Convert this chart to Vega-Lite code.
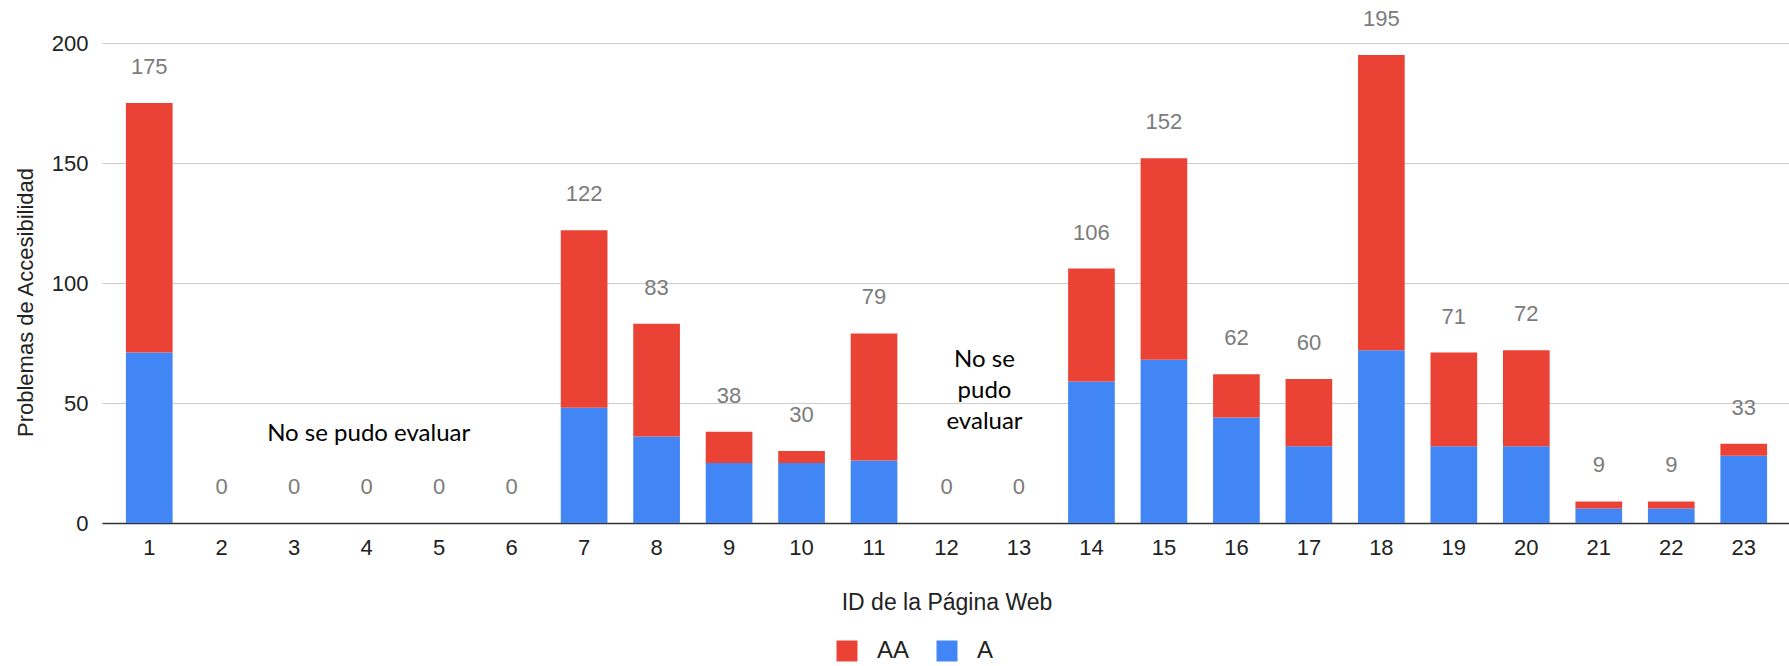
{
  "$schema": "https://vega.github.io/schema/vega-lite/v6.json",
  "autosize": {"type": "none"},
  "padding": {"left": 102, "top": 43, "right": 0, "bottom": 143},
  "width": 1689,
  "height": 480,
  "background": "white",
  "config": {
    "view": {"stroke": null},
    "font": "Liberation Sans"
  },
  "datasets": {
    "paginas": [
      {"id": "1", "nivel": "A", "valor": 71}, {"id": "1", "nivel": "AA", "valor": 104},
      {"id": "2", "nivel": "A", "valor": 0}, {"id": "2", "nivel": "AA", "valor": 0},
      {"id": "3", "nivel": "A", "valor": 0}, {"id": "3", "nivel": "AA", "valor": 0},
      {"id": "4", "nivel": "A", "valor": 0}, {"id": "4", "nivel": "AA", "valor": 0},
      {"id": "5", "nivel": "A", "valor": 0}, {"id": "5", "nivel": "AA", "valor": 0},
      {"id": "6", "nivel": "A", "valor": 0}, {"id": "6", "nivel": "AA", "valor": 0},
      {"id": "7", "nivel": "A", "valor": 48}, {"id": "7", "nivel": "AA", "valor": 74},
      {"id": "8", "nivel": "A", "valor": 36}, {"id": "8", "nivel": "AA", "valor": 47},
      {"id": "9", "nivel": "A", "valor": 25}, {"id": "9", "nivel": "AA", "valor": 13},
      {"id": "10", "nivel": "A", "valor": 25}, {"id": "10", "nivel": "AA", "valor": 5},
      {"id": "11", "nivel": "A", "valor": 26}, {"id": "11", "nivel": "AA", "valor": 53},
      {"id": "12", "nivel": "A", "valor": 0}, {"id": "12", "nivel": "AA", "valor": 0},
      {"id": "13", "nivel": "A", "valor": 0}, {"id": "13", "nivel": "AA", "valor": 0},
      {"id": "14", "nivel": "A", "valor": 59}, {"id": "14", "nivel": "AA", "valor": 47},
      {"id": "15", "nivel": "A", "valor": 68}, {"id": "15", "nivel": "AA", "valor": 84},
      {"id": "16", "nivel": "A", "valor": 44}, {"id": "16", "nivel": "AA", "valor": 18},
      {"id": "17", "nivel": "A", "valor": 32}, {"id": "17", "nivel": "AA", "valor": 28},
      {"id": "18", "nivel": "A", "valor": 72}, {"id": "18", "nivel": "AA", "valor": 123},
      {"id": "19", "nivel": "A", "valor": 32}, {"id": "19", "nivel": "AA", "valor": 39},
      {"id": "20", "nivel": "A", "valor": 32}, {"id": "20", "nivel": "AA", "valor": 40},
      {"id": "21", "nivel": "A", "valor": 6}, {"id": "21", "nivel": "AA", "valor": 3},
      {"id": "22", "nivel": "A", "valor": 6}, {"id": "22", "nivel": "AA", "valor": 3},
      {"id": "23", "nivel": "A", "valor": 28}, {"id": "23", "nivel": "AA", "valor": 5}
    ],
    "notas": [
      {"id": "4", "nota": "No se pudo evaluar"}
    ],
    "notas2": [
      {"id": "12", "nota": ["No se", "pudo", "evaluar"]}
    ]
  },
  "data": {"name": "paginas"},
  "encoding": {
    "x": {
      "field": "id",
      "type": "ordinal",
      "sort": null,
      "scale": {"paddingInner": 0.356, "paddingOuter": 0.33},
      "axis": {
        "title": "ID de la Página Web",
        "titleFont": "Liberation Sans",
        "titleFontSize": 23,
        "titleFontWeight": "normal",
        "titleColor": "#222222",
        "titlePadding": 33,
        "labelAngle": 0,
        "labelFontSize": 22,
        "labelColor": "#222222",
        "labelPadding": 14,
        "ticks": false,
        "domainColor": "#333333",
        "domainWidth": 1.5,
        "grid": false
      }
    }
  },
  "layer": [
    {
      "mark": {"type": "bar"},
      "encoding": {
        "y": {
          "field": "valor",
          "type": "quantitative",
          "aggregate": "sum",
          "stack": "zero",
          "scale": {"domain": [0, 200], "nice": false},
          "axis": {
            "title": "Problemas de Accesibilidad",
            "titleFont": "Liberation Sans",
            "titleFontSize": 22,
            "titleFontWeight": "normal",
            "titleColor": "#222222",
            "titlePadding": 14,
            "titleY": 259,
            "values": [0, 50, 100, 150, 200],
            "labelFontSize": 22,
            "labelColor": "#222222",
            "labelPadding": 14,
            "ticks": false,
            "domain": false,
            "gridColor": "#cccccc",
            "gridWidth": 1.2
          }
        },
        "color": {
          "field": "nivel",
          "type": "nominal",
          "scale": {"domain": ["AA", "A"], "range": ["#EA4335", "#4285F4"]},
          "legend": {
            "title": null,
            "orient": "none",
            "direction": "horizontal",
            "legendX": 733,
            "legendY": 596,
            "symbolType": "square",
            "symbolSize": 440,
            "symbolStrokeWidth": 0,
            "labelFontSize": 24,
            "labelColor": "#222222",
            "columnPadding": 25,
            "labelOffset": 18
          }
        },
        "order": {"field": "nivel", "sort": "ascending"}
      }
    },
    {
      "transform": [
        {"aggregate": [{"op": "sum", "field": "valor", "as": "total"}], "groupby": ["id"]}
      ],
      "mark": {"type": "text", "dy": -36, "baseline": "middle", "fontSize": 22, "color": "#7b7b7b"},
      "encoding": {
        "y": {"field": "total", "type": "quantitative"},
        "text": {"field": "total", "type": "quantitative"}
      }
    },
    {
      "data": {"name": "notas"},
      "mark": {"type": "text", "font": "Lato", "fontSize": 24, "color": "#000000", "dx": 2, "baseline": "middle"},
      "encoding": {
        "x": {"field": "id", "type": "ordinal"},
        "y": {"datum": 37},
        "text": {"field": "nota"}
      }
    },
    {
      "data": {"name": "notas2"},
      "mark": {"type": "text", "font": "Lato", "fontSize": 24, "color": "#000000", "dx": 38, "baseline": "middle", "lineHeight": 31},
      "encoding": {
        "x": {"field": "id", "type": "ordinal"},
        "y": {"datum": 68},
        "text": {"field": "nota"}
      }
    }
  ]
}
